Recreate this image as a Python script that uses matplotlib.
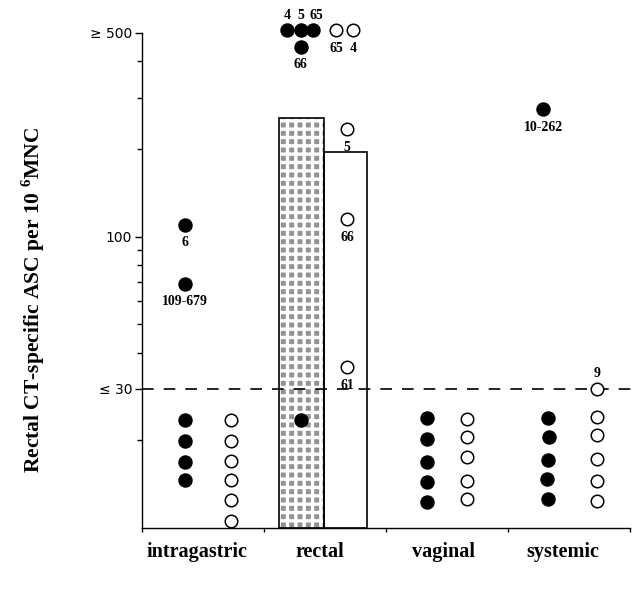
import matplotlib
matplotlib.use('Agg')
import matplotlib.pyplot as plt
from matplotlib.ticker import FixedLocator, NullFormatter

plt.rcParams['mathtext.fontset'] = 'custom'
plt.rcParams['mathtext.rm'] = 'Liberation Serif'
plt.rcParams['mathtext.bf'] = 'Liberation Serif:bold'
plt.rcParams['hatch.linewidth'] = 2.4

SERIF = 'Liberation Serif'

# groups along the x axis
categories = ['intragastric', 'rectal', 'vaginal', 'systemic']

# bars in the rectal group (filled group, open group)
bar_values = [245, 185]

# filled circles: x position, value, label
filled_x = [0.35, 0.35, 0.35, 0.35, 0.35, 0.35,
            1.19, 1.30, 1.40, 1.30, 1.30,
            2.34, 2.34, 2.34, 2.34, 2.34,
            3.29, 3.33, 3.34, 3.33, 3.32, 3.33]
filled_y = [110, 69, 23.5, 19.9, 16.9, 14.6,
            510, 510, 510, 448, 23.5,
            23.9, 20.2, 16.9, 14.4, 12.3,
            274, 23.9, 20.5, 17.1, 14.7, 12.6]
filled_lab = ['6', '109-679', '', '', '', '',
              '4', '5', '65', '66', '',
              '', '', '', '', '',
              '10-262', '', '', '', '', '']
filled_lab_above = [False] * 6 + [True, True, True, False, False] + [False] * 11

# open circles
open_x = [0.73, 0.73, 0.73, 0.73, 0.73, 0.73,
          1.59, 1.73, 1.68, 1.68, 1.68,
          2.66, 2.66, 2.66, 2.66, 2.66,
          3.73, 3.73, 3.73, 3.73, 3.73, 3.73]
open_y = [23.5, 19.9, 17.0, 14.6, 12.5, 10.6,
          510, 510, 234, 115, 35.7,
          23.7, 20.5, 17.5, 14.5, 12.6,
          30, 24.0, 20.9, 17.3, 14.5, 12.4]
open_lab = ['', '', '', '', '', '',
            '65', '4', '5', '66', '61',
            '', '', '', '', '',
            '9', '', '', '', '', '']
open_lab_above = [False] * 16 + [True] + [False] * 5

fig = plt.figure(figsize=(6.4, 5.9), dpi=100)
ax = fig.add_axes([0.2219, 0.1051, 0.7625, 0.8390])
ax.set_yscale('log')
ax.set_ylim(10, 500)
ax.set_xlim(0, 4)

# stippled bar (grey blobs separated by white grid) + open bar
ax.bar(1.307, bar_values[0], width=0.37, bottom=10, facecolor='#939393',
       edgecolor='white', hatch='++', linewidth=0, zorder=1)
ax.bar(1.307, bar_values[0], width=0.37, bottom=10, fill=False,
       edgecolor='black', linewidth=1.2, zorder=2)
ax.bar(1.668, bar_values[1], width=0.352, bottom=10, fill=False,
       edgecolor='black', linewidth=1.2, zorder=2)

ax.axhline(30, xmin=0, xmax=1.025, color='black', linewidth=1.2,
           dashes=(7, 6), clip_on=False, zorder=2.5)

ax.plot(filled_x, filled_y, 'o', color='black', markersize=9.4,
        linestyle='none', clip_on=False, zorder=3)
ax.plot(open_x, open_y, 'o', markerfacecolor='white', markeredgecolor='black',
        markeredgewidth=1.1, markersize=9, linestyle='none', clip_on=False, zorder=3)

for xs, ys, labs, above in [(filled_x, filled_y, filled_lab, filled_lab_above),
                            (open_x, open_y, open_lab, open_lab_above)]:
    for x, y, t, a in zip(xs, ys, labs, above):
        if t:
            dx = 2.5 if (a and t == '65') else 0
            ax.annotate(t, (x, y), xytext=(dx, 11 if a else -13),
                        textcoords='offset points', ha='center', va='center',
                        fontsize=10, fontweight='bold', family=SERIF,
                        annotation_clip=False)

# axes styling
for s in ['top', 'right']:
    ax.spines[s].set_visible(False)
ax.spines['left'].set_linewidth(1.0)
ax.spines['bottom'].set_linewidth(1.0)

ax.yaxis.set_major_locator(FixedLocator([30, 100, 500]))
ax.set_yticklabels(['\u2264 30', '100', '\u2265 500'])
ax.yaxis.set_minor_locator(FixedLocator([20, 40, 50, 60, 70, 80, 90, 200, 300, 400]))
ax.yaxis.set_minor_formatter(NullFormatter())
ax.tick_params(axis='y', which='major', length=5, width=1, pad=2, labelsize=10)
ax.tick_params(axis='y', which='minor', length=3.5, width=1)

ax.set_xticks([0, 1, 2, 3, 4])
ax.set_xticklabels([])
ax.set_xticks([0.45, 1.46, 2.47, 3.45], categories, minor=True)
ax.tick_params(axis='x', which='major', length=3, width=1)
ax.tick_params(axis='x', which='minor', length=0, pad=10)
for lbl in ax.get_xticklabels(minor=True):
    lbl.set_fontfamily(SERIF)
    lbl.set_fontweight('bold')
    lbl.set_fontsize(14.5)

ax.set_ylabel(r'Rectal CT-specific ASC per 10 $^{\mathbf{6}}$MNC', family=SERIF,
              fontweight='bold', fontsize=15.5)
ax.yaxis.set_label_coords(-0.195, 0.46)

fig.savefig('out.png', dpi=100)
